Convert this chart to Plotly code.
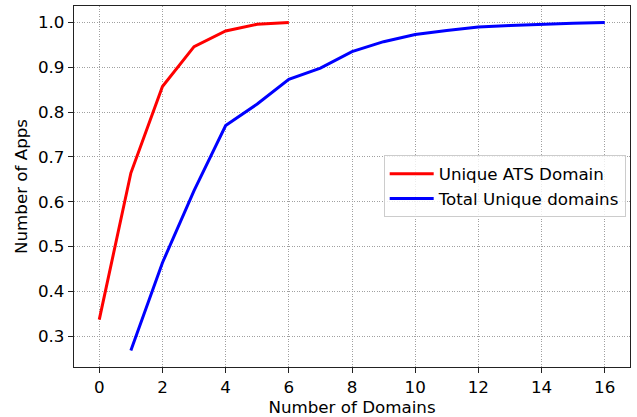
import plotly.graph_objects as go

ats_x = [0, 1, 2, 3, 4, 5, 6]
ats_y = [0.337, 0.664, 0.857, 0.946, 0.981, 0.996, 1.0]

total_x = [1, 2, 3, 4, 5, 6, 7, 8, 9, 10, 11, 12, 13, 14, 15, 16]
total_y = [0.268, 0.464, 0.625, 0.770, 0.818, 0.873, 0.898, 0.935, 0.957, 0.973, 0.982, 0.990, 0.993, 0.996, 0.998, 1.0]

x_ticks = [0, 2, 4, 6, 8, 10, 12, 14, 16]
y_ticks = [0.3, 0.4, 0.5, 0.6, 0.7, 0.8, 0.9, 1.0]

font = "DejaVu Sans"
fs = 16.7

fig = go.Figure()
fig.add_trace(go.Scatter(x=ats_x, y=ats_y, mode="lines", name="Unique ATS Domain",
                         line=dict(color="#ff0000", width=3)))
fig.add_trace(go.Scatter(x=total_x, y=total_y, mode="lines", name="Total Unique domains",
                         line=dict(color="#0000ff", width=3)))

axis_common = dict(
    showline=True, linecolor="#222222", linewidth=1.3, mirror=True,
    ticks="outside", ticklen=5, tickwidth=1.2, tickcolor="#222222",
    showgrid=True, gridcolor="#a0a0a0", gridwidth=1, griddash="1px,1.5px",
    zeroline=False, automargin=False,
    tickfont=dict(family=font, size=fs, color="black"),
)

fig.update_layout(
    width=637, height=417,
    margin=dict(l=74, r=7, t=6, b=50),
    paper_bgcolor="white", plot_bgcolor="white",
    font=dict(family=font, size=fs, color="black"),
    xaxis=dict(range=[-0.8, 16.8], tickvals=x_ticks,
               title=dict(text="Number of Domains", font=dict(family=font, size=fs), standoff=2),
               **axis_common),
    yaxis=dict(range=[0.2314, 1.0366], tickvals=y_ticks, tickformat=".1f",
               title=dict(text="Number of Apps", font=dict(family=font, size=fs), standoff=6),
               **axis_common),
    legend=dict(x=0.557, y=0.586, xanchor="left", yanchor="top",
                bgcolor="rgba(255,255,255,0.8)", bordercolor="#cccccc", borderwidth=1,
                font=dict(family=font, size=fs), tracegroupgap=0, itemwidth=44),
    showlegend=True,
)

fig.write_html("out.html", config={"displayModeBar": False},
               post_script="document.body.style.margin='0px';document.body.style.overflow='hidden';")
